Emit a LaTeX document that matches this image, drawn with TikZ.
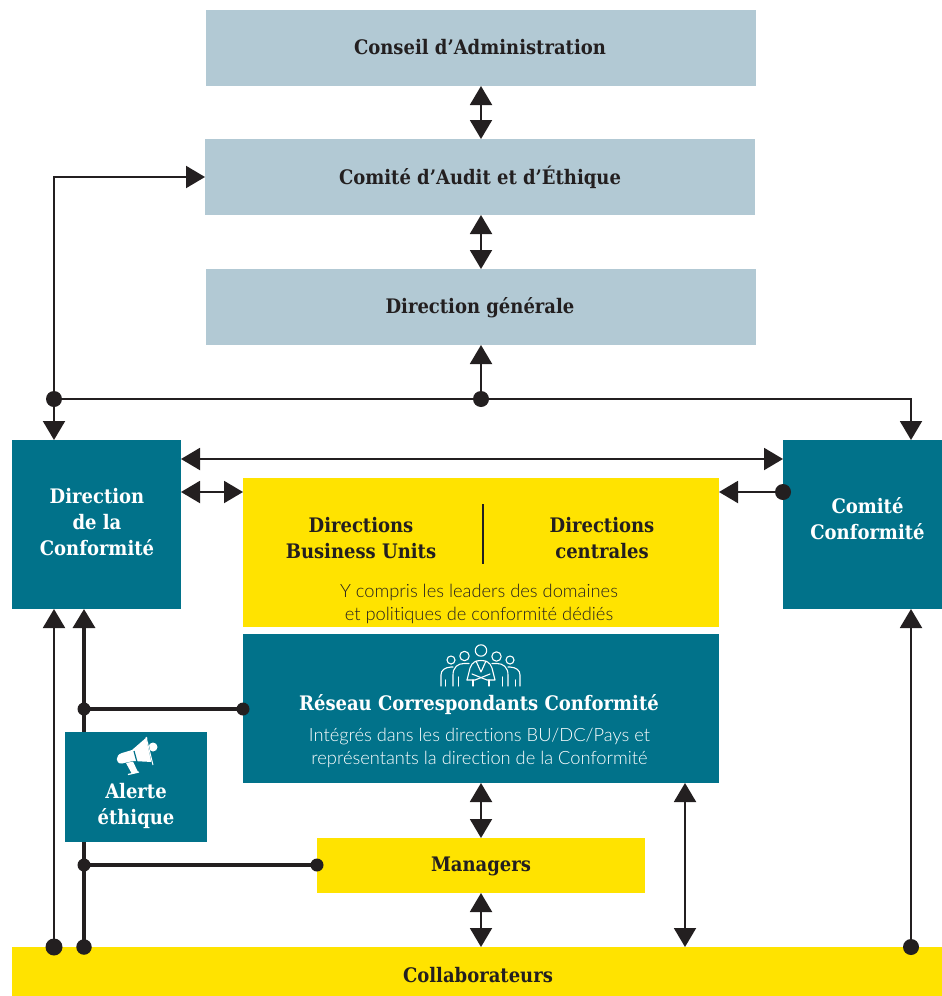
\documentclass[tikz,border=0pt]{standalone}
\usepackage{fontspec}
\usetikzlibrary{arrows.meta,calc}
\setmainfont{DejaVu Serif Condensed}
\newfontfamily\lightfont[Ligatures=NoCommon]{Lato Light}
\definecolor{paleblue}{HTML}{B2C9D4}
\definecolor{teal}{HTML}{01728A}
\definecolor{yel}{HTML}{FFE300}
\definecolor{ink}{HTML}{231F20}
\tikzset{
 x=1pt,y=-1pt,
 box/.style={inner sep=0pt,outer sep=0pt},
 pale/.style={box,fill=paleblue},
 dark/.style={box,fill=teal},
 sun/.style={box,fill=yel},
 lab/.style={inner sep=0pt,outer sep=0pt,align=center,font=\fontsize{20}{26}\bfseries},
 inklab/.style={lab,text=ink},
 whitelab/.style={lab,text=white},
 sub/.style={inner sep=0pt,align=center,font=\lightfont\fontsize{18.3}{23}\selectfont},
 tip/.style={-{Triangle[length=19pt,width=22pt]}},
 both/.style={{Triangle[length=19pt,width=22pt]}-{Triangle[length=19pt,width=22pt]}},
 wire/.style={draw=ink,line width=2pt},
 heavy/.style={draw=ink,line width=3.4pt},
 dot/.style={circle,fill=ink,inner sep=0pt,minimum size=16pt},
 icon/.style={draw=white,line width=1.1pt,line cap=round,line join=round},
}
\begin{document}
\begin{tikzpicture}
\useasboundingbox (0,0) rectangle (942,996);
% axes used to place connectors
\coordinate (xa) at (54,0); \coordinate (xb) at (84,0); \coordinate (xm) at (481,0);
\coordinate (xr) at (685,0); \coordinate (xc) at (911,0);
\coordinate (yt) at (0,459); \coordinate (yd) at (0,492);
\node[coordinate] (dotTop) at (54,399) {};
\node[coordinate] (dotMid) at (481,399) {};
\node[coordinate] (dotBA) at (54,947) {};
\node[coordinate] (dotBB) at (84,947) {};
\node[coordinate] (dotBR) at (911,947) {};
\node[coordinate] (dotR) at (84,709) {};
\node[coordinate] (dotRe) at (243,709) {};
\node[coordinate] (dotM) at (84,865) {};
\node[coordinate] (dotMe) at (317,865) {};
\node[coordinate] (dotC) at (783,492) {};
% boxes
\node[pale,minimum width=550pt,minimum height=76pt] (ca) at (481,48) {};
\node[pale,minimum width=550pt,minimum height=76pt] (cae) at (480,177) {};
\node[pale,minimum width=550pt,minimum height=76pt] (dg) at (481,307) {};
\node[dark,minimum width=169pt,minimum height=169pt] (dc) at (96.5,524.5) {};
\node[dark,minimum width=159pt,minimum height=169pt] (cc) at (862.5,524.5) {};
\node[sun,minimum width=476pt,minimum height=149pt] (dir) at (481,552.5) {};
\node[dark,minimum width=476pt,minimum height=149pt] (rc) at (481,708.5) {};
\node[sun,minimum width=328pt,minimum height=55pt] (mg) at (481,865.5) {};
\node[sun,minimum width=930pt,minimum height=49pt] (co) at (477,971.5) {};
% connectors
\draw[wire,both] (ca.south -| xm) -- (cae.north -| xm);
\draw[wire,both] (cae.south -| xm) -- (dg.north -| xm);
\draw[wire,tip] (dotMid) -- (dg.south -| xm);
\draw[wire] (dotTop) -- (dotMid);
\draw[wire,tip] (dotMid) -| (cc.north -| xc);
\draw[wire,tip] (dotTop) |- (cae.west);
\draw[wire,tip] (dotTop) -- (dc.north -| xa);
\draw[wire,both] (dc.east |- yt) -- (cc.west |- yt);
\draw[wire,both] (dc.east |- yd) -- (dir.west |- yd);
\draw[wire,tip] (dotC) -- (dir.east |- yd);
\draw[wire,tip] (dotBA) -- (dc.south -| xa);
\draw[heavy,-{Triangle[length=19pt,width=22pt]}] (dotBB) -- (dc.south -| xb);
\draw[heavy] (dotR) -- (dotRe);
\draw[heavy] (dotM) -- (dotMe);
\draw[wire,both] (rc.south -| xm) -- (mg.north -| xm);
\draw[wire,both] (mg.south -| xm) -- (co.north -| xm);
\draw[wire,both] (rc.south -| xr) -- (co.north -| xr);
\draw[wire,tip] (dotBR) -- (cc.south -| xc);
% junction dots
\foreach \n in {dotTop,dotMid,dotBR,dotC}{\node[dot] at (\n) {};}
\node[dot,minimum size=17pt] at (dotBA) {};
\node[dot,minimum size=15.5pt] at (dotBB) {};
\foreach \n in {dotR,dotRe,dotM,dotMe}{\node[dot,minimum size=13pt] at (\n) {};}
% Alert box on top of the bar
\node[dark,minimum width=142pt,minimum height=110pt] (ae) at (136,787) {};
% labels
\node[inklab] (tca) at (480,47) {Conseil d’Administration};
\node[inklab] (tcae) at (480,177) {Comité d’Audit et d’Éthique};
\node[inklab] (tdg) at (480,307.5) {Direction générale};
\node[whitelab] (tdc) at (97,522) {Direction\\de la\\Conformité};
\node[whitelab] (tcc) at (867.5,519) {Comité\\Conformité};
\node[whitelab] (aet) at (136,806) {Alerte\\éthique};
\node[inklab] (tmg) at (481,866) {Managers};
\node[inklab] (tco) at (478,975) {Collaborateurs};
\node[inklab] (t1) at (361,538) {Directions\\Business Units};
\node[inklab] (t2) at (602,538) {Directions\\centrales};
\coordinate (s1) at (483,504); \coordinate (s2) at (483,564);
\draw[ink,line width=2pt] (s1) -- (s2);
\node[sub,text=ink] (t3) at (479,603.5) {Y compris les leaders des domaines\\et politiques de conformité dédiés};
\node[whitelab] (t4) at (479,704.5) {Réseau Correspondants Conformité};
\node[sub,text=white] (t5) at (479.5,747.5) {Intégrés dans les directions BU/DC/Pays et\\représentants la direction de la Conformité};
% people icon
\begin{scope}[icon]
 \draw (481,650.5) circle (5.7);
 \draw (464.5,656) circle (4.7);
 \draw (496.5,656.5) circle (4.7);
 \draw (451,660) circle (4);
 \draw (510,660) circle (4);
 \draw (441,686) -- (441,675) .. controls (441,670) and (445,667.5) .. (451,667) -- (453,667);
 \draw (520,686) -- (520,675) .. controls (520,670) and (516,667.5) .. (510,667) -- (508,667);
 \draw (445.5,686) -- (445.5,680); \draw (515.5,686) -- (515.5,680);
 \draw (453,686) -- (453,675) .. controls (453,667) and (458,663.5) .. (464,663.5) -- (469,663.5);
 \draw (508,686) -- (508,675) .. controls (508,667) and (503,663.5) .. (497,663.5) -- (492,663.5);
 \draw (458.5,686) -- (458.5,677); \draw (502.5,686) -- (502.5,677);
 \draw (467,680) -- (470,668) .. controls (472,662) and (476,660.5) .. (481,660.5) .. controls (486,660.5) and (490,662) .. (492,668) -- (495,680) -- (487,680) -- (472,674);
 \draw (467,680) -- (475,680) -- (490,674);
 \draw (476,661) -- (481,672) -- (486,661);
 \draw (473,680) -- (473,686); \draw (489,680) -- (489,686);
\end{scope}
% megaphone icon
\begin{scope}
 \fill[white] (147,737) -- (132,750) -- (122,753) .. controls (115,755) and (115,764) .. (122,763.5) -- (133,761) -- (152,762) -- cycle;
 \fill[white] (126,763) -- (133,761.5) -- (138,772) -- (132,774) -- cycle;
 \draw[white,line width=1.2pt] (128,774.5) -- (139,772);
 \fill[white] (153,747) circle (4.5);
 \draw[teal,line width=1.2pt] (134,751) -- (137,762);
 \draw[teal,line width=1.2pt] (147,739) -- (152,762);
 \draw[white,line width=1pt] (146,737) -- (153,765);
\end{scope}
\end{tikzpicture}
\end{document}
